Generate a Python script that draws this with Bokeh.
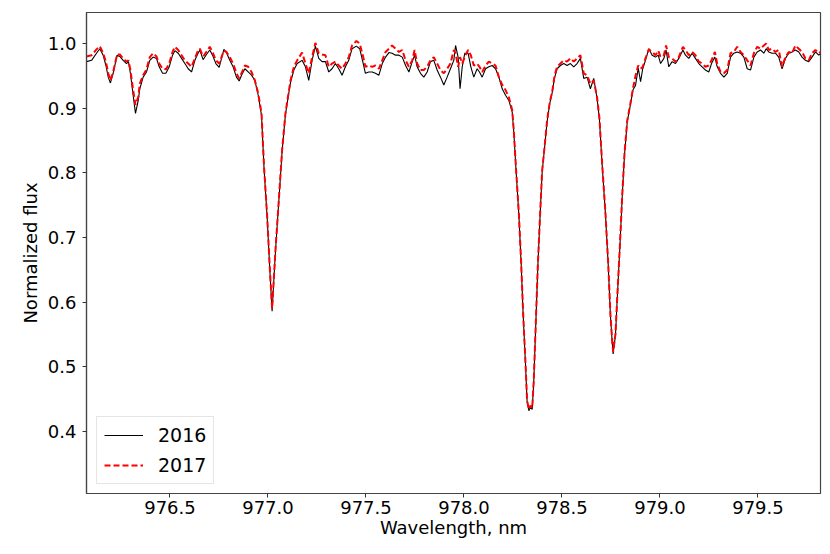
from bokeh.plotting import figure
from bokeh.models import FixedTicker, NumeralTickFormatter, Range1d
from bokeh.embed import file_html
from bokeh.resources import INLINE

# Wavelength grid (nm)
wavelength = [
    976.074, 976.100, 976.125, 976.142, 976.159, 976.173, 976.185, 976.196, 976.210, 976.230,
    976.244, 976.261, 976.278, 976.288, 976.298, 976.312, 976.324, 976.338, 976.346, 976.363,
    976.380, 976.397, 976.414, 976.431, 976.445, 976.462, 976.479, 976.496, 976.513, 976.525,
    976.542, 976.559, 976.576, 976.593, 976.610, 976.627, 976.640, 976.652, 976.669, 976.686,
    976.703, 976.717, 976.734, 976.751, 976.763, 976.775, 976.788, 976.805, 976.822, 976.839,
    976.853, 976.865, 976.882, 976.899, 976.916, 976.933, 976.950, 976.967, 976.980, 976.996,
    977.009, 977.021, 977.038, 977.055, 977.072, 977.089, 977.098, 977.115, 977.132, 977.149,
    977.174, 977.191, 977.208, 977.225, 977.242, 977.259, 977.276, 977.293, 977.310, 977.327,
    977.344, 977.361, 977.378, 977.395, 977.412, 977.429, 977.451, 977.468, 977.486, 977.497,
    977.514, 977.532, 977.548, 977.566, 977.583, 977.600, 977.617, 977.633, 977.651, 977.668,
    977.685, 977.702, 977.719, 977.736, 977.748, 977.761, 977.778, 977.795, 977.812, 977.829,
    977.846, 977.863, 977.880, 977.897, 977.914, 977.931, 977.948, 977.957, 977.970, 977.980,
    977.991, 978.004, 978.021, 978.035, 978.050, 978.067, 978.079, 978.093, 978.110, 978.127,
    978.144, 978.161, 978.178, 978.195, 978.212, 978.229, 978.246, 978.254, 978.266, 978.280,
    978.292, 978.302, 978.314, 978.322, 978.331, 978.339, 978.348, 978.356, 978.365, 978.377,
    978.390, 978.399, 978.411, 978.424, 978.438, 978.450, 978.462, 978.475, 978.492, 978.509,
    978.526, 978.543, 978.560, 978.577, 978.594, 978.611, 978.628, 978.645, 978.662, 978.679,
    978.691, 978.705, 978.722, 978.736, 978.747, 978.756, 978.761, 978.773, 978.782, 978.795,
    978.807, 978.819, 978.833, 978.849, 978.862, 978.875, 978.889, 978.901, 978.912, 978.926,
    978.943, 978.960, 978.977, 978.991, 979.003, 979.020, 979.031, 979.045, 979.062, 979.079,
    979.096, 979.117, 979.130, 979.147, 979.164, 979.181, 979.198, 979.215, 979.232, 979.249,
    979.263, 979.280, 979.292, 979.309, 979.326, 979.343, 979.360, 979.377, 979.394, 979.411,
    979.428, 979.445, 979.462, 979.479, 979.496, 979.513, 979.530, 979.542, 979.555, 979.572,
    979.589, 979.606, 979.623, 979.640, 979.657, 979.674, 979.691, 979.708, 979.725, 979.742,
    979.759, 979.776, 979.793, 979.810, 979.819,
]

flux_2016 = [
    0.972, 0.974, 0.985, 0.992, 0.982, 0.966, 0.948, 0.939, 0.954, 0.982,
    0.980, 0.974, 0.969, 0.972, 0.954, 0.920, 0.892, 0.912, 0.930, 0.948,
    0.956, 0.974, 0.979, 0.977, 0.964, 0.954, 0.954, 0.964, 0.982, 0.989,
    0.985, 0.977, 0.969, 0.961, 0.956, 0.974, 0.983, 0.990, 0.975, 0.983,
    0.990, 0.982, 0.969, 0.963, 0.977, 0.991, 0.986, 0.974, 0.964, 0.948,
    0.942, 0.951, 0.961, 0.956, 0.951, 0.943, 0.920, 0.889, 0.806, 0.730,
    0.652, 0.586, 0.678, 0.755, 0.833, 0.890, 0.908, 0.940, 0.959, 0.969,
    0.974, 0.964, 0.943, 0.974, 0.996, 0.977, 0.972, 0.972, 0.956, 0.961,
    0.969, 0.961, 0.951, 0.964, 0.974, 0.992, 0.996, 0.992, 0.969, 0.954,
    0.956, 0.956, 0.954, 0.951, 0.969, 0.979, 0.986, 0.985, 0.982, 0.982,
    0.979, 0.966, 0.956, 0.972, 0.982, 0.964, 0.954, 0.948, 0.956, 0.972,
    0.974, 0.959, 0.948, 0.936, 0.948, 0.961, 0.974, 0.997, 0.979, 0.930,
    0.964, 0.985, 0.985, 0.964, 0.948, 0.961, 0.956, 0.948, 0.961, 0.964,
    0.966, 0.961, 0.948, 0.930, 0.920, 0.912, 0.894, 0.864, 0.802, 0.735,
    0.657, 0.580, 0.503, 0.446, 0.432, 0.438, 0.434, 0.477, 0.554, 0.657,
    0.745, 0.802, 0.838, 0.879, 0.908, 0.924, 0.947, 0.961, 0.966, 0.969,
    0.966, 0.969, 0.964, 0.969, 0.977, 0.946, 0.948, 0.930, 0.946, 0.915,
    0.883, 0.812, 0.735, 0.657, 0.580, 0.539, 0.520, 0.549, 0.606, 0.683,
    0.761, 0.828, 0.879, 0.905, 0.928, 0.935, 0.962, 0.941, 0.961, 0.974,
    0.992, 0.982, 0.979, 0.982, 0.969, 0.977, 0.990, 0.964, 0.972, 0.969,
    0.977, 0.990, 0.982, 0.977, 0.985, 0.977, 0.969, 0.964, 0.959, 0.956,
    0.969, 0.979, 0.964, 0.954, 0.948, 0.954, 0.979, 0.985, 0.987, 0.985,
    0.979, 0.961, 0.959, 0.979, 0.987, 0.990, 0.985, 0.992, 0.987, 0.985,
    0.985, 0.979, 0.961, 0.977, 0.985, 0.987, 0.990, 0.987, 0.979, 0.974,
    0.972, 0.979, 0.987, 0.982, 0.984,
]

flux_2017 = [
    0.980, 0.982, 0.991, 0.996, 0.985, 0.972, 0.954, 0.943, 0.956, 0.983,
    0.983, 0.977, 0.972, 0.974, 0.959, 0.928, 0.905, 0.917, 0.938, 0.951,
    0.960, 0.979, 0.985, 0.980, 0.969, 0.961, 0.960, 0.969, 0.987, 0.995,
    0.990, 0.982, 0.974, 0.969, 0.964, 0.977, 0.987, 0.992, 0.980, 0.987,
    0.995, 0.987, 0.974, 0.969, 0.979, 0.989, 0.987, 0.979, 0.969, 0.954,
    0.946, 0.954, 0.966, 0.964, 0.956, 0.943, 0.923, 0.892, 0.809, 0.732,
    0.654, 0.590, 0.680, 0.757, 0.835, 0.892, 0.910, 0.943, 0.964, 0.974,
    0.986, 0.969, 0.954, 0.979, 1.001, 0.985, 0.983, 0.982, 0.964, 0.969,
    0.972, 0.966, 0.961, 0.969, 0.979, 0.997, 1.004, 1.000, 0.979, 0.964,
    0.966, 0.964, 0.966, 0.961, 0.974, 0.987, 0.992, 0.997, 0.992, 0.987,
    0.990, 0.974, 0.964, 0.974, 0.990, 0.969, 0.959, 0.959, 0.964, 0.974,
    0.979, 0.969, 0.959, 0.954, 0.961, 0.969, 0.990, 0.985, 0.964, 0.979,
    0.969, 0.979, 0.990, 0.982, 0.966, 0.969, 0.964, 0.956, 0.966, 0.972,
    0.969, 0.966, 0.948, 0.936, 0.928, 0.917, 0.897, 0.866, 0.804, 0.737,
    0.659, 0.582, 0.505, 0.448, 0.434, 0.440, 0.436, 0.479, 0.556, 0.659,
    0.747, 0.804, 0.840, 0.881, 0.910, 0.925, 0.950, 0.964, 0.969, 0.974,
    0.972, 0.977, 0.972, 0.977, 0.982, 0.954, 0.951, 0.938, 0.943, 0.917,
    0.885, 0.814, 0.737, 0.659, 0.582, 0.541, 0.523, 0.551, 0.608, 0.685,
    0.763, 0.830, 0.881, 0.907, 0.930, 0.950, 0.966, 0.961, 0.964, 0.977,
    0.991, 0.987, 0.982, 0.989, 0.979, 0.982, 0.997, 0.979, 0.977, 0.972,
    0.979, 0.995, 0.990, 0.982, 0.987, 0.982, 0.972, 0.969, 0.964, 0.966,
    0.974, 0.987, 0.969, 0.956, 0.954, 0.959, 0.985, 0.987, 0.995, 0.987,
    0.982, 0.974, 0.966, 0.985, 0.995, 0.992, 0.997, 1.000, 0.990, 0.992,
    0.987, 0.990, 0.964, 0.979, 0.987, 0.985, 0.997, 0.992, 0.987, 0.977,
    0.974, 0.985, 0.990, 0.985, 0.987,
]

x_ticks = [976.5, 977.0, 977.5, 978.0, 978.5, 979.0, 979.5]
y_ticks = [0.4, 0.5, 0.6, 0.7, 0.8, 0.9, 1.0]
x_label = "Wavelength, nm"
y_label = "Normalized flux"
series_labels = ["2016", "2017"]

FONT = "DejaVu Sans"

p = figure(
    frame_width=734, frame_height=481,
    x_range=Range1d(976.074, 979.819), y_range=Range1d(0.304, 1.048),
    output_backend="svg", toolbar_location=None,
    min_border_left=86, min_border_top=12, min_border_right=10, min_border_bottom=4,
    background_fill_color="white", border_fill_color="white",
)

p.line(wavelength, flux_2016, line_color="black", line_width=1.1, legend_label=series_labels[0])
p.line(wavelength, flux_2017, line_color="#ff0000", line_width=2.0, line_dash="6 3",
       legend_label=series_labels[1])

p.xgrid.visible = False
p.ygrid.visible = False
p.outline_line_color = "#444444"
p.outline_line_width = 1.2

for ax in (p.xaxis[0], p.yaxis[0]):
    ax.axis_line_color = "#444444"
    ax.axis_line_width = 1.2
    ax.major_tick_line_color = "#333333"
    ax.major_tick_out = 4
    ax.major_tick_in = 0
    ax.minor_tick_out = 0
    ax.minor_tick_in = 0
    ax.major_label_text_font = FONT
    ax.major_label_text_font_size = "18px"
    ax.major_label_text_color = "black"
    ax.axis_label_text_font = FONT
    ax.axis_label_text_font_size = "18px"
    ax.axis_label_text_font_style = "normal"
    ax.axis_label_text_color = "black"
    ax.formatter = NumeralTickFormatter(format="0.0")

p.xaxis[0].ticker = FixedTicker(ticks=x_ticks)
p.yaxis[0].ticker = FixedTicker(ticks=y_ticks)
p.xaxis[0].axis_label = x_label
p.yaxis[0].axis_label = y_label
p.xaxis[0].major_label_standoff = 3
p.yaxis[0].major_label_standoff = 6
p.xaxis[0].axis_label_standoff = 0
p.yaxis[0].axis_label_standoff = 4

lg = p.legend[0]
lg.location = (10, 9)
lg.border_line_color = "#cccccc"
lg.border_line_width = 1
lg.background_fill_color = "white"
lg.background_fill_alpha = 0.8
lg.label_text_font = FONT
lg.label_text_font_size = "19px"
lg.label_text_color = "black"
lg.glyph_width = 39
lg.glyph_height = 20
lg.label_height = 20
lg.label_standoff = 15
lg.padding = 7
lg.spacing = 8
lg.margin = 0

open("out.html", "w").write(file_html(p, INLINE))
